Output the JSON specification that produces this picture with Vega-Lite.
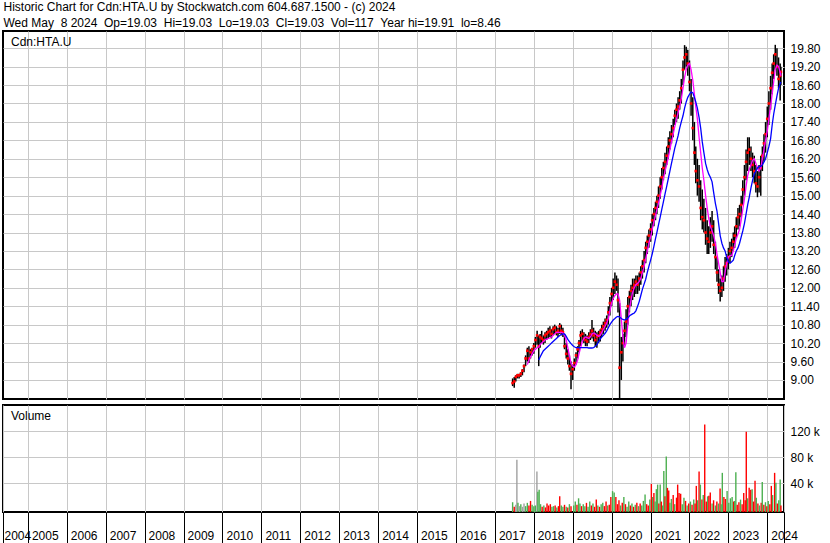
{
"$schema": "https://vega.github.io/schema/vega-lite/v6.json",
"background": "white",
"padding": {"left": 1, "top": 1, "right": 0, "bottom": 0},
"spacing": 3,
"title": {"text": ["Historic Chart for Cdn:HTA.U by Stockwatch.com 604.687.1500 - (c) 2024", "Wed May \u00a08 2024 \u00a0Op=19.03 \u00a0Hi=19.03 \u00a0Lo=19.03 \u00a0Cl=19.03 \u00a0Vol=117 \u00a0Year hi=19.91 \u00a0lo=8.46"], "anchor": "start", "frame": "bounds", "font": "Liberation Sans", "fontSize": 12, "fontWeight": "normal", "color": "black", "lineHeight": 16, "baseline": "top", "offset": 0, "dx": 2},
"config": {
  "font": "Liberation Sans",
  "view": {"stroke": "black", "strokeWidth": 2, "fill": "white"},
  "axis": {"labelFont": "Liberation Sans", "labelFontSize": 12, "labelColor": "black", "gridColor": "#c8c8c8", "gridWidth": 1, "labelOverlap": false, "labelFlush": false}
},
"datasets": {
"p": [
{"d":"2017-06-16","h":9.05,"l":8.8,"c":8.9},
{"d":"2017-07-01","h":9.1,"l":8.75,"c":8.95},
{"d":"2017-07-16","h":9.15,"l":8.95,"c":9.1},
{"d":"2017-08-01","h":9.2,"l":9.05,"c":9.15},
{"d":"2017-08-16","h":9.2,"l":9.05,"c":9.15},
{"d":"2017-09-01","h":9.25,"l":9.1,"c":9.2},
{"d":"2017-09-16","h":9.35,"l":9.15,"c":9.3},
{"d":"2017-10-01","h":9.5,"l":9.25,"c":9.45},
{"d":"2017-10-16","h":9.8,"l":9.45,"c":9.7},
{"d":"2017-11-01","h":10.05,"l":9.6,"c":9.95,"m1":9.5},
{"d":"2017-11-16","h":10.1,"l":9.55,"c":9.7,"m1":9.65},
{"d":"2017-12-01","h":10.0,"l":9.7,"c":9.9,"m1":9.75},
{"d":"2017-12-16","h":10.05,"l":9.8,"c":10.0,"m1":9.85},
{"d":"2018-01-01","h":10.2,"l":9.85,"c":10.1,"m1":9.95},
{"d":"2018-01-16","h":10.4,"l":10.05,"c":10.3,"m1":10.0},
{"d":"2018-02-01","h":10.6,"l":10.15,"c":10.45,"m1":10.05},
{"d":"2018-02-16","h":10.45,"l":9.45,"c":10.1,"m1":10.07,"m2":9.65},
{"d":"2018-03-01","h":10.5,"l":10.05,"c":10.4,"m1":10.15,"m2":9.75},
{"d":"2018-03-16","h":10.6,"l":10.2,"c":10.35,"m1":10.2,"m2":9.85},
{"d":"2018-04-01","h":10.45,"l":10.15,"c":10.3,"m1":10.25,"m2":9.95},
{"d":"2018-04-16","h":10.55,"l":10.2,"c":10.45,"m1":10.3,"m2":10.0},
{"d":"2018-05-01","h":10.6,"l":10.3,"c":10.5,"m1":10.33,"m2":10.05},
{"d":"2018-05-16","h":10.7,"l":10.35,"c":10.55,"m1":10.35,"m2":10.1},
{"d":"2018-06-01","h":10.75,"l":10.4,"c":10.6,"m1":10.37,"m2":10.15},
{"d":"2018-06-16","h":10.65,"l":10.35,"c":10.5,"m1":10.4,"m2":10.2},
{"d":"2018-07-01","h":10.75,"l":10.45,"c":10.65,"m1":10.45,"m2":10.25},
{"d":"2018-07-16","h":10.8,"l":10.5,"c":10.7,"m1":10.5,"m2":10.3},
{"d":"2018-08-01","h":10.75,"l":10.45,"c":10.55,"m1":10.55,"m2":10.35},
{"d":"2018-08-16","h":10.7,"l":10.4,"c":10.6,"m1":10.55,"m2":10.4},
{"d":"2018-09-01","h":10.85,"l":10.5,"c":10.75,"m1":10.55,"m2":10.45},
{"d":"2018-09-16","h":10.8,"l":10.45,"c":10.6,"m1":10.55,"m2":10.48},
{"d":"2018-10-01","h":10.7,"l":10.4,"c":10.55,"m1":10.53,"m2":10.5},
{"d":"2018-10-16","h":10.5,"l":10.0,"c":10.1,"m1":10.45,"m2":10.5},
{"d":"2018-11-01","h":10.2,"l":9.7,"c":9.85,"m1":10.3,"m2":10.42},
{"d":"2018-11-16","h":10.0,"l":9.5,"c":9.7,"m1":10.05,"m2":10.32},
{"d":"2018-12-01","h":9.8,"l":9.3,"c":9.45,"m1":9.8,"m2":10.25},
{"d":"2018-12-16","h":9.6,"l":8.7,"c":9.2,"m1":9.55,"m2":10.18},
{"d":"2019-01-01","h":9.5,"l":9.0,"c":9.35,"m1":9.45,"m2":10.12},
{"d":"2019-01-16","h":9.7,"l":9.3,"c":9.55,"m1":9.42,"m2":10.08},
{"d":"2019-02-01","h":9.9,"l":9.5,"c":9.8,"m1":9.5,"m2":10.05},
{"d":"2019-02-16","h":10.1,"l":9.7,"c":10.0,"m1":9.65,"m2":10.05},
{"d":"2019-03-01","h":10.3,"l":9.9,"c":10.2,"m1":9.85,"m2":10.05},
{"d":"2019-03-16","h":10.6,"l":10.1,"c":10.45,"m1":10.05,"m2":10.05},
{"d":"2019-04-01","h":10.65,"l":10.25,"c":10.5,"m1":10.25,"m2":10.05},
{"d":"2019-04-16","h":10.55,"l":10.2,"c":10.35,"m1":10.35,"m2":10.05},
{"d":"2019-05-01","h":10.5,"l":10.1,"c":10.3,"m1":10.4,"m2":10.05},
{"d":"2019-05-16","h":10.45,"l":10.1,"c":10.25,"m1":10.38,"m2":10.05},
{"d":"2019-06-01","h":10.55,"l":10.2,"c":10.4,"m1":10.35,"m2":10.04},
{"d":"2019-06-16","h":10.65,"l":10.3,"c":10.5,"m1":10.4,"m2":10.04},
{"d":"2019-07-01","h":10.95,"l":10.35,"c":10.6,"m1":10.5,"m2":10.04},
{"d":"2019-07-16","h":10.7,"l":10.25,"c":10.45,"m1":10.53,"m2":10.05},
{"d":"2019-08-01","h":10.6,"l":10.1,"c":10.3,"m1":10.5,"m2":10.1},
{"d":"2019-08-16","h":10.55,"l":10.05,"c":10.4,"m1":10.45,"m2":10.15},
{"d":"2019-09-01","h":10.6,"l":10.2,"c":10.45,"m1":10.42,"m2":10.25},
{"d":"2019-09-16","h":10.65,"l":10.25,"c":10.55,"m1":10.45,"m2":10.33},
{"d":"2019-10-01","h":10.8,"l":10.4,"c":10.65,"m1":10.55,"m2":10.4},
{"d":"2019-10-16","h":10.9,"l":10.5,"c":10.75,"m1":10.65,"m2":10.45},
{"d":"2019-11-01","h":11.0,"l":10.6,"c":10.85,"m1":10.75,"m2":10.52},
{"d":"2019-11-16","h":11.1,"l":10.7,"c":10.95,"m1":10.85,"m2":10.6},
{"d":"2019-12-01","h":11.4,"l":10.8,"c":11.2,"m1":11.0,"m2":10.7},
{"d":"2019-12-16","h":11.7,"l":11.1,"c":11.5,"m1":11.25,"m2":10.8},
{"d":"2020-01-01","h":12.0,"l":11.4,"c":11.8,"m1":11.5,"m2":10.88},
{"d":"2020-01-16","h":12.3,"l":11.6,"c":12.0,"m1":11.65,"m2":10.95},
{"d":"2020-02-01","h":12.5,"l":11.8,"c":12.2,"m1":11.75,"m2":11.0},
{"d":"2020-02-16","h":12.4,"l":11.9,"c":12.1,"m1":11.8,"m2":11.05},
{"d":"2020-03-01","h":12.3,"l":11.2,"c":11.6,"m1":11.8,"m2":11.07},
{"d":"2020-03-16","h":11.5,"l":8.4,"c":9.4,"m1":11.6,"m2":11.05},
{"d":"2020-04-01","h":10.4,"l":9.0,"c":9.9,"m1":11.0,"m2":11.0},
{"d":"2020-04-16","h":10.5,"l":9.6,"c":10.2,"m1":10.4,"m2":10.97},
{"d":"2020-05-01","h":10.9,"l":10.1,"c":10.6,"m1":10.05,"m2":10.95},
{"d":"2020-05-16","h":11.3,"l":10.4,"c":10.9,"m1":10.2,"m2":10.98},
{"d":"2020-06-01","h":11.7,"l":10.8,"c":11.4,"m1":10.8,"m2":11.02},
{"d":"2020-06-16","h":11.9,"l":11.2,"c":11.7,"m1":11.3,"m2":11.08},
{"d":"2020-07-01","h":12.1,"l":11.4,"c":11.9,"m1":11.6,"m2":11.12},
{"d":"2020-07-16","h":12.3,"l":11.6,"c":12.0,"m1":11.85,"m2":11.15},
{"d":"2020-08-01","h":12.3,"l":11.7,"c":12.1,"m1":12.0,"m2":11.18},
{"d":"2020-08-16","h":12.4,"l":11.8,"c":12.2,"m1":12.1,"m2":11.25},
{"d":"2020-09-01","h":12.4,"l":11.8,"c":12.1,"m1":12.15,"m2":11.4},
{"d":"2020-09-16","h":12.5,"l":11.9,"c":12.3,"m1":12.2,"m2":11.55},
{"d":"2020-10-01","h":12.7,"l":12.1,"c":12.5,"m1":12.3,"m2":11.75},
{"d":"2020-10-16","h":12.9,"l":12.3,"c":12.7,"m1":12.5,"m2":11.95},
{"d":"2020-11-01","h":13.2,"l":12.5,"c":12.9,"m1":12.7,"m2":12.12},
{"d":"2020-11-16","h":13.5,"l":12.8,"c":13.3,"m1":12.95,"m2":12.28},
{"d":"2020-12-01","h":13.7,"l":13.1,"c":13.5,"m1":13.2,"m2":12.5},
{"d":"2020-12-16","h":13.9,"l":13.3,"c":13.7,"m1":13.45,"m2":12.7},
{"d":"2021-01-01","h":14.1,"l":13.5,"c":13.9,"m1":13.65,"m2":12.9},
{"d":"2021-01-16","h":14.4,"l":13.7,"c":14.2,"m1":13.9,"m2":13.1},
{"d":"2021-02-01","h":14.6,"l":14.0,"c":14.4,"m1":14.15,"m2":13.35},
{"d":"2021-02-16","h":14.8,"l":14.2,"c":14.6,"m1":14.35,"m2":13.6},
{"d":"2021-03-01","h":15.0,"l":14.4,"c":14.8,"m1":14.55,"m2":13.8},
{"d":"2021-03-16","h":15.3,"l":14.6,"c":15.0,"m1":14.75,"m2":14.05},
{"d":"2021-04-01","h":15.6,"l":14.9,"c":15.3,"m1":15.0,"m2":14.3},
{"d":"2021-04-16","h":15.9,"l":15.2,"c":15.6,"m1":15.25,"m2":14.55},
{"d":"2021-05-01","h":16.1,"l":15.5,"c":15.9,"m1":15.55,"m2":14.8},
{"d":"2021-05-16","h":16.4,"l":15.7,"c":16.1,"m1":15.8,"m2":15.05},
{"d":"2021-06-01","h":16.6,"l":16.0,"c":16.3,"m1":16.0,"m2":15.3},
{"d":"2021-06-16","h":16.9,"l":16.2,"c":16.6,"m1":16.25,"m2":15.55},
{"d":"2021-07-01","h":17.1,"l":16.5,"c":16.8,"m1":16.5,"m2":15.8},
{"d":"2021-07-16","h":17.3,"l":16.7,"c":17.0,"m1":16.75,"m2":16.05},
{"d":"2021-08-01","h":17.5,"l":16.9,"c":17.2,"m1":17.0,"m2":16.3},
{"d":"2021-08-16","h":17.8,"l":17.3,"c":17.6,"m1":17.25,"m2":16.55},
{"d":"2021-09-01","h":18.0,"l":17.4,"c":17.8,"m1":17.5,"m2":16.75},
{"d":"2021-09-16","h":18.2,"l":17.5,"c":17.9,"m1":17.7,"m2":16.95},
{"d":"2021-10-01","h":18.4,"l":17.8,"c":18.1,"m1":17.9,"m2":17.2},
{"d":"2021-10-16","h":18.8,"l":18.0,"c":18.5,"m1":18.15,"m2":17.4},
{"d":"2021-11-01","h":19.4,"l":18.6,"c":19.1,"m1":18.5,"m2":17.6},
{"d":"2021-11-16","h":19.9,"l":19.1,"c":19.5,"m1":18.85,"m2":17.85},
{"d":"2021-12-01","h":19.85,"l":19.2,"c":19.6,"m1":19.1,"m2":18.05},
{"d":"2021-12-16","h":19.75,"l":18.9,"c":19.3,"m1":19.25,"m2":18.2},
{"d":"2022-01-01","h":19.4,"l":18.4,"c":18.7,"m1":19.3,"m2":18.3},
{"d":"2022-01-16","h":18.8,"l":17.6,"c":18.0,"m1":19.1,"m2":18.37},
{"d":"2022-02-01","h":18.2,"l":16.8,"c":17.2,"m1":18.75,"m2":18.35},
{"d":"2022-02-16","h":17.4,"l":16.0,"c":16.4,"m1":18.3,"m2":18.2},
{"d":"2022-03-01","h":16.6,"l":15.4,"c":15.8,"m1":17.9,"m2":18.05},
{"d":"2022-03-16","h":16.2,"l":15.0,"c":15.5,"m1":17.5,"m2":17.85},
{"d":"2022-04-01","h":16.0,"l":14.8,"c":15.3,"m1":16.9,"m2":17.55},
{"d":"2022-04-16","h":15.5,"l":14.2,"c":14.6,"m1":16.4,"m2":17.2},
{"d":"2022-05-01","h":15.2,"l":13.9,"c":14.3,"m1":15.9,"m2":16.75},
{"d":"2022-05-16","h":14.9,"l":13.8,"c":14.2,"m1":15.5,"m2":16.4},
{"d":"2022-06-01","h":14.6,"l":13.4,"c":13.8,"m1":15.0,"m2":16.05},
{"d":"2022-06-16","h":14.2,"l":13.1,"c":13.6,"m1":14.6,"m2":15.85},
{"d":"2022-07-01","h":14.0,"l":13.1,"c":13.5,"m1":14.25,"m2":15.7},
{"d":"2022-07-16","h":14.3,"l":13.3,"c":13.8,"m1":14.0,"m2":15.6},
{"d":"2022-08-01","h":14.5,"l":13.5,"c":14.0,"m1":13.85,"m2":15.45},
{"d":"2022-08-16","h":14.2,"l":13.1,"c":13.4,"m1":13.7,"m2":15.1},
{"d":"2022-09-01","h":13.5,"l":12.6,"c":13.0,"m1":13.45,"m2":14.75},
{"d":"2022-09-16","h":13.0,"l":12.2,"c":12.5,"m1":13.1,"m2":14.5},
{"d":"2022-10-01","h":12.6,"l":11.8,"c":12.1,"m1":12.8,"m2":14.1},
{"d":"2022-10-16","h":12.3,"l":11.55,"c":11.9,"m1":12.5,"m2":13.7},
{"d":"2022-11-01","h":12.4,"l":11.7,"c":12.0,"m1":12.2,"m2":13.45},
{"d":"2022-11-16","h":12.7,"l":11.9,"c":12.3,"m1":12.2,"m2":13.3},
{"d":"2022-12-01","h":13.0,"l":12.2,"c":12.7,"m1":12.5,"m2":13.2},
{"d":"2022-12-16","h":13.1,"l":12.4,"c":12.8,"m1":12.8,"m2":13.0},
{"d":"2023-01-01","h":13.3,"l":12.6,"c":13.0,"m1":13.0,"m2":12.85},
{"d":"2023-01-16","h":13.5,"l":12.8,"c":13.2,"m1":13.05,"m2":12.8},
{"d":"2023-02-01","h":13.6,"l":13.0,"c":13.3,"m1":13.05,"m2":12.85},
{"d":"2023-02-16","h":13.8,"l":13.2,"c":13.5,"m1":13.2,"m2":12.9},
{"d":"2023-03-01","h":14.0,"l":13.3,"c":13.7,"m1":13.4,"m2":13.05},
{"d":"2023-03-16","h":14.3,"l":13.6,"c":14.0,"m1":13.6,"m2":13.2},
{"d":"2023-04-01","h":14.6,"l":13.9,"c":14.3,"m1":13.75,"m2":13.3},
{"d":"2023-04-16","h":14.7,"l":14.0,"c":14.4,"m1":13.9,"m2":13.45},
{"d":"2023-05-01","h":15.0,"l":14.3,"c":14.7,"m1":14.2,"m2":13.65},
{"d":"2023-05-16","h":15.5,"l":14.7,"c":15.2,"m1":14.55,"m2":13.85},
{"d":"2023-06-01","h":16.0,"l":15.0,"c":15.6,"m1":14.9,"m2":14.1},
{"d":"2023-06-16","h":16.5,"l":15.5,"c":16.1,"m1":15.3,"m2":14.4},
{"d":"2023-07-01","h":16.9,"l":15.8,"c":16.4,"m1":15.65,"m2":14.7},
{"d":"2023-07-16","h":16.9,"l":16.0,"c":16.5,"m1":15.85,"m2":14.95},
{"d":"2023-08-01","h":16.6,"l":15.8,"c":16.2,"m1":16.0,"m2":15.25},
{"d":"2023-08-16","h":16.4,"l":15.6,"c":16.0,"m1":16.15,"m2":15.5},
{"d":"2023-09-01","h":16.3,"l":15.4,"c":15.8,"m1":16.2,"m2":15.7},
{"d":"2023-09-16","h":16.0,"l":15.1,"c":15.4,"m1":16.05,"m2":15.8},
{"d":"2023-10-01","h":15.8,"l":14.95,"c":15.3,"m1":15.9,"m2":15.9},
{"d":"2023-10-16","h":16.0,"l":15.1,"c":15.6,"m1":15.8,"m2":15.95},
{"d":"2023-11-01","h":16.3,"l":15.0,"c":15.9,"m1":15.9,"m2":15.95},
{"d":"2023-11-16","h":16.6,"l":15.8,"c":16.3,"m1":16.2,"m2":16.0},
{"d":"2023-12-01","h":17.0,"l":16.1,"c":16.7,"m1":16.5,"m2":16.1},
{"d":"2023-12-16","h":17.4,"l":16.4,"c":17.0,"m1":16.8,"m2":16.2},
{"d":"2024-01-01","h":17.9,"l":16.9,"c":17.5,"m1":17.1,"m2":16.4},
{"d":"2024-01-16","h":18.4,"l":17.3,"c":18.0,"m1":17.5,"m2":16.6},
{"d":"2024-02-01","h":18.9,"l":17.8,"c":18.5,"m1":17.9,"m2":16.85},
{"d":"2024-02-16","h":19.3,"l":18.3,"c":19.0,"m1":18.3,"m2":17.3},
{"d":"2024-03-01","h":19.6,"l":18.8,"c":19.3,"m1":18.7,"m2":17.65},
{"d":"2024-03-16","h":19.91,"l":19.1,"c":19.6,"m1":19.1,"m2":17.95},
{"d":"2024-04-01","h":19.8,"l":18.9,"c":19.2,"m1":19.25,"m2":18.25},
{"d":"2024-04-16","h":19.5,"l":18.5,"c":18.8,"m1":19.2,"m2":18.5},
{"d":"2024-05-01","h":19.3,"l":18.1,"c":18.9,"m1":19.0,"m2":18.65},
{"d":"2024-05-08","h":19.2,"l":18.6,"c":19.03,"m1":18.9,"m2":18.7}
],
"v": [
{"d":"2017-06-16","v":11,"c":"g"},{"d":"2017-07-01","v":4,"c":"r"},{"d":"2017-07-16","v":7,"c":"n"},{"d":"2017-07-26","v":76,"c":"n"},
{"d":"2017-08-05","v":10,"c":"g"},{"d":"2017-08-18","v":5,"c":"n"},{"d":"2017-09-01","v":8,"c":"g"},{"d":"2017-09-16","v":4,"c":"n"},
{"d":"2017-10-01","v":9,"c":"n"},{"d":"2017-10-16","v":5,"c":"g"},{"d":"2017-11-01","v":10,"c":"g"},{"d":"2017-11-16","v":6,"c":"r"},
{"d":"2017-12-01","v":13,"c":"r"},{"d":"2017-12-16","v":7,"c":"g"},{"d":"2018-01-01","v":5,"c":"g"},{"d":"2018-01-15","v":6,"c":"g"},
{"d":"2018-01-30","v":58,"c":"n"},{"d":"2018-02-08","v":27,"c":"g"},{"d":"2018-02-20","v":30,"c":"g"},{"d":"2018-03-05","v":8,"c":"g"},
{"d":"2018-03-20","v":4,"c":"r"},{"d":"2018-04-05","v":6,"c":"g"},{"d":"2018-04-20","v":3,"c":"r"},{"d":"2018-05-05","v":9,"c":"r"},
{"d":"2018-05-20","v":6,"c":"r"},{"d":"2018-06-05","v":8,"c":"r"},{"d":"2018-06-20","v":4,"c":"g"},{"d":"2018-07-05","v":5,"c":"g"},
{"d":"2018-07-20","v":6,"c":"r"},{"d":"2018-08-05","v":3,"c":"g"},{"d":"2018-08-20","v":5,"c":"r"},{"d":"2018-09-01","v":20,"c":"r"},
{"d":"2018-09-16","v":6,"c":"g"},{"d":"2018-10-01","v":4,"c":"g"},{"d":"2018-10-16","v":7,"c":"r"},{"d":"2018-11-01","v":4,"c":"g"},
{"d":"2018-11-16","v":3,"c":"r"},{"d":"2018-12-01","v":8,"c":"g"},{"d":"2018-12-16","v":5,"c":"r"},{"d":"2019-01-10","v":6,"c":"g"},
{"d":"2019-01-25","v":12,"c":"g"},{"d":"2019-02-10","v":7,"c":"r"},{"d":"2019-02-25","v":17,"c":"g"},{"d":"2019-03-10","v":9,"c":"g"},
{"d":"2019-03-25","v":5,"c":"r"},{"d":"2019-04-10","v":8,"c":"g"},{"d":"2019-04-25","v":5,"c":"g"},{"d":"2019-05-10","v":10,"c":"r"},
{"d":"2019-05-25","v":4,"c":"g"},{"d":"2019-06-10","v":12,"c":"g"},{"d":"2019-06-25","v":6,"c":"r"},{"d":"2019-07-10","v":9,"c":"g"},
{"d":"2019-07-25","v":4,"c":"r"},{"d":"2019-08-10","v":15,"c":"r"},{"d":"2019-08-25","v":6,"c":"g"},{"d":"2019-09-10","v":4,"c":"r"},
{"d":"2019-09-25","v":8,"c":"g"},{"d":"2019-10-10","v":10,"c":"g"},{"d":"2019-10-25","v":5,"c":"r"},{"d":"2019-11-10","v":12,"c":"r"},
{"d":"2019-11-25","v":6,"c":"g"},{"d":"2019-12-10","v":7,"c":"r"},{"d":"2019-12-25","v":19,"c":"r"},{"d":"2020-01-10","v":28,"c":"g"},
{"d":"2020-01-25","v":26,"c":"g"},{"d":"2020-02-10","v":19,"c":"r"},{"d":"2020-02-25","v":8,"c":"r"},{"d":"2020-03-10","v":14,"c":"r"},
{"d":"2020-03-25","v":6,"c":"g"},{"d":"2020-04-10","v":10,"c":"r"},{"d":"2020-04-25","v":19,"c":"g"},{"d":"2020-05-10","v":8,"c":"r"},
{"d":"2020-05-25","v":4,"c":"g"},{"d":"2020-06-10","v":12,"c":"g"},{"d":"2020-06-25","v":6,"c":"r"},{"d":"2020-07-10","v":9,"c":"g"},
{"d":"2020-07-25","v":4,"c":"r"},{"d":"2020-08-10","v":7,"c":"g"},{"d":"2020-08-25","v":10,"c":"r"},{"d":"2020-09-10","v":5,"c":"g"},
{"d":"2020-09-25","v":9,"c":"r"},{"d":"2020-10-10","v":6,"c":"g"},{"d":"2020-10-25","v":13,"c":"g"},{"d":"2020-11-10","v":23,"c":"g"},
{"d":"2020-11-25","v":8,"c":"r"},{"d":"2020-12-10","v":6,"c":"r"},{"d":"2020-12-25","v":15,"c":"g"},{"d":"2021-01-08","v":39,"c":"r"},
{"d":"2021-01-20","v":19,"c":"g"},{"d":"2021-02-01","v":25,"c":"r"},{"d":"2021-02-12","v":12,"c":"g"},{"d":"2021-02-24","v":31,"c":"g"},
{"d":"2021-03-08","v":38,"c":"g"},{"d":"2021-03-20","v":9,"c":"r"},{"d":"2021-04-01","v":38,"c":"g"},{"d":"2021-04-12","v":12,"c":"r"},
{"d":"2021-04-24","v":6,"c":"g"},{"d":"2021-05-05","v":59,"c":"g"},{"d":"2021-05-16","v":20,"c":"r"},{"d":"2021-05-28","v":81,"c":"g"},
{"d":"2021-06-08","v":33,"c":"r"},{"d":"2021-06-20","v":29,"c":"r"},{"d":"2021-07-01","v":10,"c":"g"},{"d":"2021-07-15","v":16,"c":"g"},
{"d":"2021-08-01","v":22,"c":"r"},{"d":"2021-08-15","v":8,"c":"g"},{"d":"2021-09-01","v":18,"c":"r"},{"d":"2021-09-12","v":38,"c":"r"},
{"d":"2021-09-25","v":25,"c":"r"},{"d":"2021-10-10","v":24,"c":"r"},{"d":"2021-10-25","v":8,"c":"g"},{"d":"2021-11-10","v":18,"c":"g"},
{"d":"2021-11-25","v":13,"c":"r"},{"d":"2021-12-10","v":6,"c":"g"},{"d":"2021-12-25","v":9,"c":"r"},{"d":"2022-01-10","v":12,"c":"g"},
{"d":"2022-01-25","v":7,"c":"r"},{"d":"2022-02-10","v":15,"c":"g"},{"d":"2022-02-22","v":9,"c":"r"},{"d":"2022-03-06","v":36,"c":"r"},
{"d":"2022-03-18","v":14,"c":"g"},{"d":"2022-04-01","v":58,"c":"r"},{"d":"2022-04-13","v":38,"c":"g"},{"d":"2022-04-28","v":15,"c":"r"},
{"d":"2022-05-10","v":22,"c":"g"},{"d":"2022-05-24","v":130,"c":"r"},{"d":"2022-06-08","v":12,"c":"r"},{"d":"2022-06-20","v":20,"c":"g"},
{"d":"2022-07-02","v":21,"c":"r"},{"d":"2022-07-15","v":26,"c":"r"},{"d":"2022-08-01","v":9,"c":"g"},{"d":"2022-08-15","v":14,"c":"r"},
{"d":"2022-09-01","v":6,"c":"g"},{"d":"2022-09-15","v":12,"c":"r"},{"d":"2022-10-01","v":9,"c":"g"},{"d":"2022-10-15","v":32,"c":"r"},
{"d":"2022-10-25","v":8,"c":"g"},{"d":"2022-11-05","v":56,"c":"g"},{"d":"2022-11-20","v":19,"c":"r"},{"d":"2022-12-05","v":16,"c":"r"},
{"d":"2022-12-20","v":28,"c":"g"},{"d":"2023-01-05","v":10,"c":"g"},{"d":"2023-01-20","v":17,"c":"g"},{"d":"2023-02-05","v":19,"c":"g"},
{"d":"2023-02-20","v":12,"c":"r"},{"d":"2023-03-01","v":13,"c":"g"},{"d":"2023-03-12","v":57,"c":"g"},{"d":"2023-03-25","v":7,"c":"r"},
{"d":"2023-04-10","v":11,"c":"r"},{"d":"2023-04-25","v":15,"c":"g"},{"d":"2023-05-10","v":8,"c":"r"},{"d":"2023-05-25","v":25,"c":"r"},
{"d":"2023-06-08","v":14,"c":"r"},{"d":"2023-06-18","v":119,"c":"r"},{"d":"2023-06-30","v":17,"c":"g"},{"d":"2023-07-15","v":33,"c":"r"},
{"d":"2023-07-30","v":30,"c":"r"},{"d":"2023-08-12","v":31,"c":"g"},{"d":"2023-08-25","v":12,"c":"r"},{"d":"2023-09-08","v":44,"c":"r"},
{"d":"2023-09-20","v":18,"c":"g"},{"d":"2023-10-05","v":9,"c":"r"},{"d":"2023-10-20","v":6,"c":"g"},{"d":"2023-11-05","v":10,"c":"r"},
{"d":"2023-11-15","v":42,"c":"g"},{"d":"2023-11-30","v":7,"c":"r"},{"d":"2023-12-15","v":11,"c":"g"},{"d":"2023-12-28","v":5,"c":"r"},
{"d":"2024-01-10","v":13,"c":"g"},{"d":"2024-01-25","v":8,"c":"r"},{"d":"2024-02-08","v":36,"c":"r"},{"d":"2024-02-20","v":22,"c":"g"},
{"d":"2024-03-10","v":56,"c":"r"},{"d":"2024-03-22","v":41,"c":"g"},{"d":"2024-04-05","v":9,"c":"r"},{"d":"2024-04-18","v":14,"c":"g"},
{"d":"2024-05-01","v":46,"c":"g"},{"d":"2024-05-08","v":6,"c":"r"}
]
},
"vconcat": [
{
  "width": 781, "height": 368,
  "layer": [
    {"data": {"name": "p"},
     "mark": {"type": "rule", "color": "black", "strokeWidth": 1.5},
     "encoding": {
      "x": {"field": "d", "type": "temporal",
        "scale": {"type": "utc", "padding": 0, "domain": [{"year": 2004, "month": 5, "date": 12, "utc": true}, {"year": 2024, "month": 6, "date": 6, "utc": true}]},
        "axis": {"title": null, "labels": false, "ticks": false, "domain": false, "grid": true, "tickCount": 100,
          "values": [{"year":2005,"utc":true},{"year":2006,"utc":true},{"year":2007,"utc":true},{"year":2008,"utc":true},{"year":2009,"utc":true},{"year":2010,"utc":true},{"year":2011,"utc":true},{"year":2012,"utc":true},{"year":2013,"utc":true},{"year":2014,"utc":true},{"year":2015,"utc":true},{"year":2016,"utc":true},{"year":2017,"utc":true},{"year":2018,"utc":true},{"year":2019,"utc":true},{"year":2020,"utc":true},{"year":2021,"utc":true},{"year":2022,"utc":true},{"year":2023,"utc":true},{"year":2024,"utc":true}]}},
      "y": {"field": "l", "type": "quantitative", "scale": {"domain": [8.38, 20.36], "zero": false, "nice": false},
        "axis": {"title": null, "orient": "right", "tickCount": 100, "values": [9.0, 9.6, 10.2, 10.8, 11.4, 12.0, 12.6, 13.2, 13.8, 14.4, 15.0, 15.6, 16.2, 16.8, 17.4, 18.0, 18.6, 19.2, 19.8], "format": ".2f", "grid": true, "ticks": false, "domain": false, "labelPadding": 6, "labelBaseline": "middle", "labelOverlap": false}},
      "y2": {"field": "h"}}},
    {"data": {"name": "p"},
     "mark": {"type": "square", "color": "#ff0000", "size": 7, "opacity": 1},
     "encoding": {"x": {"field": "d", "type": "temporal", "axis": {"tickCount": 100}}, "y": {"field": "c", "type": "quantitative", "axis": {"title": null, "labelOverlap": false, "tickCount": 100}}}},
    {"data": {"name": "p"},
     "transform": [{"filter": "isValid(datum.m1)"}],
     "mark": {"type": "line", "color": "#ff00ff", "strokeWidth": 1.3},
     "encoding": {"x": {"field": "d", "type": "temporal", "axis": {"tickCount": 100}}, "y": {"field": "m1", "type": "quantitative", "axis": {"title": null, "labelOverlap": false, "tickCount": 100}}}},
    {"data": {"name": "p"},
     "transform": [{"filter": "isValid(datum.m2)"}],
     "mark": {"type": "line", "color": "#0000ff", "strokeWidth": 1.3},
     "encoding": {"x": {"field": "d", "type": "temporal", "axis": {"tickCount": 100}}, "y": {"field": "m2", "type": "quantitative", "axis": {"title": null, "labelOverlap": false, "tickCount": 100}}}},
    {"data": {"values": [{"t": "Cdn:HTA.U"}]},
     "mark": {"type": "text", "align": "left", "baseline": "alphabetic", "font": "Liberation Sans", "fontSize": 12, "fill": "black"},
     "encoding": {"x": {"datum": {"year": 2004, "month": 7, "date": 26, "utc": true}, "type": "temporal", "axis": {"title": null, "labelOverlap": false, "tickCount": 100}}, "y": {"datum": 19.87, "type": "quantitative", "axis": {"title": null, "labelOverlap": false, "tickCount": 100}}, "text": {"field": "t", "type": "nominal"}}}
  ]
},
{
  "width": 781, "height": 107,
  "layer": [
    {"data": {"name": "v"},
     "mark": {"type": "bar", "width": 1.4},
     "encoding": {
      "x": {"field": "d", "type": "temporal",
        "scale": {"type": "utc", "padding": 0, "domain": [{"year": 2004, "month": 5, "date": 12, "utc": true}, {"year": 2024, "month": 6, "date": 6, "utc": true}]},
        "axis": {"title": null, "grid": true, "domain": false, "ticks": true, "tickSize": 34, "tickColor": "black", "tickWidth": 1, "tickCount": 100,
          "labelAlign": "left", "labelBaseline": "top", "labelPadding": -16, "labelOverlap": false, "labelFlush": false,
          "labelOffset": {"condition": {"test": "utcmonth(datum.value) == 4", "value": 1}, "value": 3.5},
          "labelExpr": "utcmonth(datum.value) == 5 ? '' : utcFormat(datum.value, '%Y')",
          "values": [{"year":2004,"month":5,"date":12,"utc":true},{"year":2005,"utc":true},{"year":2006,"utc":true},{"year":2007,"utc":true},{"year":2008,"utc":true},{"year":2009,"utc":true},{"year":2010,"utc":true},{"year":2011,"utc":true},{"year":2012,"utc":true},{"year":2013,"utc":true},{"year":2014,"utc":true},{"year":2015,"utc":true},{"year":2016,"utc":true},{"year":2017,"utc":true},{"year":2018,"utc":true},{"year":2019,"utc":true},{"year":2020,"utc":true},{"year":2021,"utc":true},{"year":2022,"utc":true},{"year":2023,"utc":true},{"year":2024,"utc":true},{"year":2024,"month":6,"date":6,"utc":true}]}},
      "y": {"field": "v", "type": "quantitative", "scale": {"domain": [-4, 160], "nice": false, "zero": false},
        "axis": {"title": null, "orient": "right", "tickCount": 100, "values": [40, 80, 120], "labelExpr": "datum.value + ' k'", "grid": true, "ticks": false, "domain": false, "labelPadding": 6, "labelOverlap": false}},
      "y2": {"datum": -4},
      "color": {"field": "c", "type": "nominal", "scale": {"domain": ["g", "r", "n"], "range": ["#4caf50", "#ff0000", "#a0a0a0"]}, "legend": null}
     }},
    {"data": {"values": [{"t": "Volume"}]},
     "mark": {"type": "text", "align": "left", "baseline": "alphabetic", "font": "Liberation Sans", "fontSize": 12, "fill": "black"},
     "encoding": {"x": {"datum": {"year": 2004, "month": 7, "date": 26, "utc": true}, "type": "temporal", "axis": {"title": null, "labelOverlap": false, "tickCount": 100}}, "y": {"datum": 137, "type": "quantitative", "axis": {"title": null, "labelOverlap": false, "tickCount": 100}}, "text": {"field": "t", "type": "nominal"}}}
  ]
}
]
}
